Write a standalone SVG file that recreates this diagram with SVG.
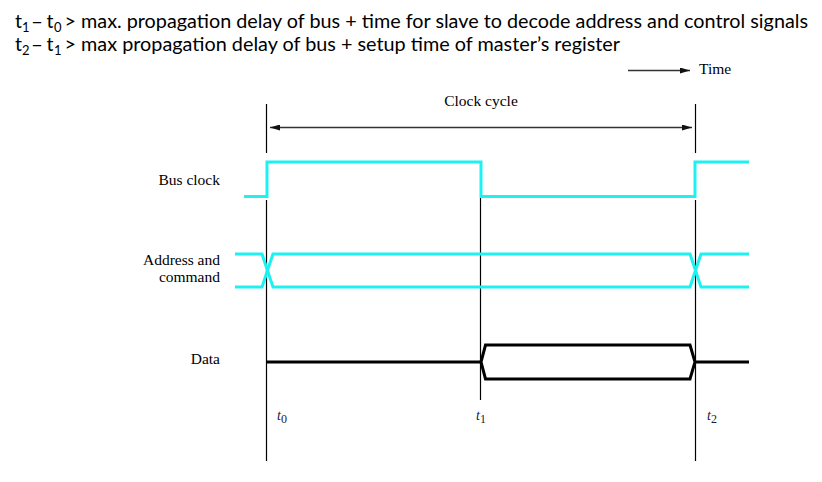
<svg xmlns="http://www.w3.org/2000/svg" width="822" height="482" viewBox="0 0 822 482">
<style>
.hdr{font-family:"Lato","Open Sans","Liberation Sans",sans-serif;font-size:19.5px;fill:#000}
.hsub{font-family:"Lato","Open Sans","Liberation Sans",sans-serif;font-size:13px;fill:#000}
.lbl{font-family:"Liberation Serif","Times New Roman",serif;font-size:15.5px;fill:#000}
.tl{font-family:"Liberation Serif","Times New Roman",serif;font-size:14px;font-style:italic;fill:#1a1a3a}
.sub{font-style:normal;font-size:12px}
.guide{stroke:#000;stroke-width:1.2;fill:none}
.sig{stroke:#1ff0f0;stroke-width:3;fill:none;stroke-linejoin:miter}
.dat{stroke:#000;stroke-width:3;fill:none}
.arr{stroke:#333;stroke-width:1.5;fill:none}
</style>
<defs>
<marker id="ah" viewBox="0 0 10 6" refX="10" refY="3" markerWidth="10" markerHeight="6" markerUnits="userSpaceOnUse" orient="auto-start-reverse">
<path d="M0,0 L10,3 L0,6 Z" fill="#111"/>
</marker>
</defs>

<g id="header">
<text class="hdr" x="15" y="27.5">t</text>
<text class="hsub" x="22" y="31.5">1</text>
<text class="hdr" x="31" y="27.5" textLength="12" lengthAdjust="spacingAndGlyphs">–</text>
<text class="hdr" x="46.5" y="27.5">t</text>
<text class="hsub" x="54" y="31.5">0</text>
<text class="hdr" x="64.5" y="27.5" textLength="743.5" lengthAdjust="spacingAndGlyphs">&gt; max. propagation delay of bus + time for slave to decode address and control signals</text>
<text class="hdr" x="15" y="51">t</text>
<text class="hsub" x="22" y="55">2</text>
<text class="hdr" x="31" y="51" textLength="12" lengthAdjust="spacingAndGlyphs">–</text>
<text class="hdr" x="46.5" y="51">t</text>
<text class="hsub" x="54" y="55">1</text>
<text class="hdr" x="64.5" y="51" textLength="555.5" lengthAdjust="spacingAndGlyphs">&gt; max propagation delay of bus + setup time of master’s register</text>
</g>

<g id="time-axis">
<line class="arr" x1="628" y1="70.5" x2="690" y2="70.5" marker-end="url(#ah)"/>
<text class="lbl" x="699" y="74" font-size="15">Time</text>
</g>

<g id="connectors">
<line class="guide" x1="266.5" y1="104" x2="266.5" y2="153"/>
<line class="guide" x1="266.5" y1="200" x2="266.5" y2="461"/>
<line class="guide" x1="480.5" y1="198" x2="480.5" y2="400"/>
<line class="guide" x1="695.5" y1="104" x2="695.5" y2="153"/>
<line class="guide" x1="695.5" y1="200" x2="695.5" y2="461"/>
<line class="arr" x1="270" y1="127.5" x2="692" y2="127.5" marker-start="url(#ah)" marker-end="url(#ah)"/>
</g>

<g id="clock-cycle-label">
<text class="lbl" x="481" y="106" text-anchor="middle">Clock cycle</text>
</g>

<g id="bus-clock">
<text class="lbl" x="220" y="185" text-anchor="end">Bus clock</text>
<polyline class="sig" points="244,196.5 267,196.5 267,162 481,162 481,196.5 695,196.5 695,162 749,162"/>
</g>

<g id="address-command">
<text class="lbl" x="220" y="265" text-anchor="end">Address and</text>
<text class="lbl" x="220" y="282" text-anchor="end">command</text>
<polyline class="sig" points="235,254 262,254 273,287 690,287 701,254 749,254"/>
<polyline class="sig" points="235,287 262,287 273,254 690,254 701,287 749,287"/>
</g>

<g id="data">
<text class="lbl" x="220" y="364" text-anchor="end">Data</text>
<line class="dat" x1="267" y1="362" x2="481" y2="362"/>
<polygon class="dat" points="481,362 485.5,345 690,345 695,362 690,379 485.5,379"/>
<line class="dat" x1="695" y1="362" x2="749" y2="362"/>
</g>

<g id="time-labels">
<text class="tl" x="277" y="420">t<tspan class="sub" dy="3">0</tspan></text>
<text class="tl" x="476" y="420">t<tspan class="sub" dy="3">1</tspan></text>
<text class="tl" x="707" y="420">t<tspan class="sub" dy="3">2</tspan></text>
</g>
</svg>
